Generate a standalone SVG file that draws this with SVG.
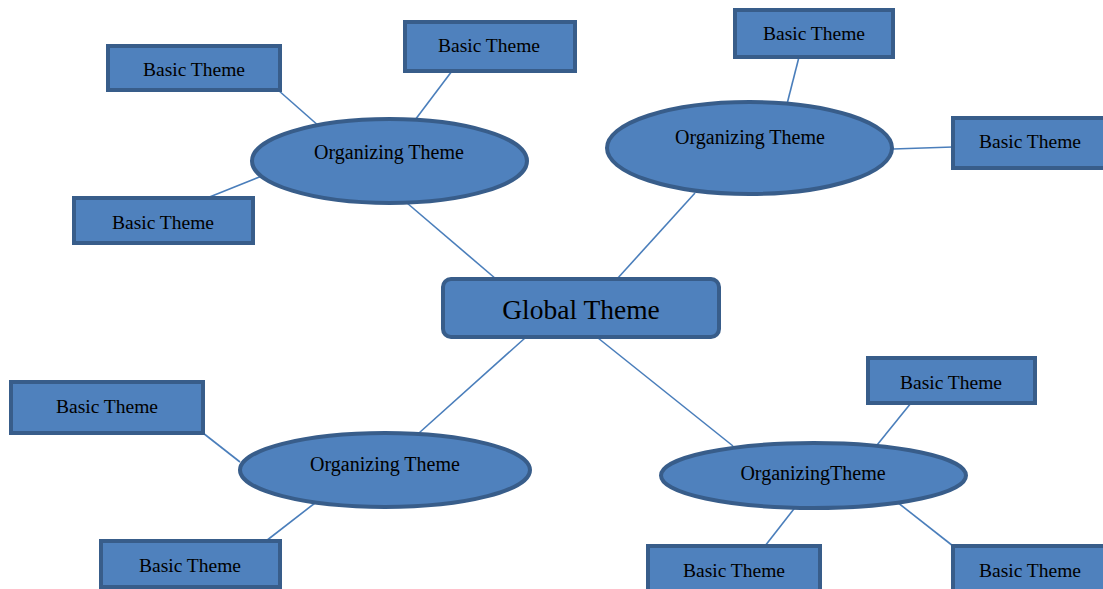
<svg xmlns="http://www.w3.org/2000/svg" width="1103" height="589" viewBox="0 0 1103 589">
<style>
.n{fill:#4f81bd;stroke:#385d8a;stroke-width:4}
.c line{stroke:#4a7ebb;stroke-width:1.6}
text{font-family:"Liberation Serif","Times New Roman",serif;fill:#000;text-anchor:middle;dominant-baseline:central}
.b{font-size:19.5px}
.o{font-size:20px}
.g{font-size:27.5px}
</style>
<rect width="1103" height="589" fill="#fff"/>
<g id="connectors" class="c">
<line x1="278" y1="90" x2="320" y2="127"/>
<line x1="452" y1="71" x2="412" y2="124"/>
<line x1="207" y1="198" x2="262" y2="176"/>
<line x1="799" y1="57" x2="787" y2="104"/>
<line x1="953" y1="147" x2="893" y2="149"/>
<line x1="407" y1="203" x2="496" y2="279"/>
<line x1="695" y1="193" x2="617" y2="279"/>
<line x1="525" y1="338" x2="419" y2="433"/>
<line x1="598" y1="338" x2="733" y2="446"/>
<line x1="203" y1="433" x2="240" y2="462"/>
<line x1="266" y1="541" x2="315" y2="503"/>
<line x1="911" y1="403" x2="873" y2="450"/>
<line x1="765" y1="546" x2="797" y2="505"/>
<line x1="953" y1="546" x2="897" y2="502"/>
</g>
<g id="global"><rect class="n" x="443" y="279" width="276" height="58" rx="8"/><text class="g" x="581" y="309">Global Theme</text></g>
<g id="org1"><ellipse class="n" cx="389.5" cy="161" rx="137.5" ry="42"/><text class="o" x="389" y="152">Organizing Theme</text></g>
<g id="org2"><ellipse class="n" cx="749.5" cy="148" rx="142.5" ry="46"/><text class="o" x="750" y="137">Organizing Theme</text></g>
<g id="org3"><ellipse class="n" cx="385" cy="470" rx="145" ry="37"/><text class="o" x="385" y="464">Organizing Theme</text></g>
<g id="org4"><ellipse class="n" cx="813.5" cy="475.5" rx="152.5" ry="32.5"/><text class="o" x="813" y="473">OrganizingTheme</text></g>
<g id="b1"><rect class="n" x="108" y="46" width="172" height="44"/><text class="b" x="194" y="69">Basic Theme</text></g>
<g id="b2"><rect class="n" x="405" y="22" width="170" height="49"/><text class="b" x="489" y="45">Basic Theme</text></g>
<g id="b3"><rect class="n" x="74" y="198" width="179" height="45"/><text class="b" x="163" y="222">Basic Theme</text></g>
<g id="b4"><rect class="n" x="735" y="10" width="158" height="47"/><text class="b" x="814" y="33">Basic Theme</text></g>
<g id="b5"><rect class="n" x="953" y="118" width="155" height="50"/><text class="b" x="1030" y="141">Basic Theme</text></g>
<g id="b6"><rect class="n" x="11" y="382" width="192" height="51"/><text class="b" x="107" y="406">Basic Theme</text></g>
<g id="b7"><rect class="n" x="101" y="541" width="179" height="46"/><text class="b" x="190" y="565">Basic Theme</text></g>
<g id="b8"><rect class="n" x="868" y="358" width="167" height="45"/><text class="b" x="951" y="382">Basic Theme</text></g>
<g id="b9"><rect class="n" x="648" y="546" width="172" height="45"/><text class="b" x="734" y="570">Basic Theme</text></g>
<g id="b10"><rect class="n" x="953" y="546" width="155" height="45"/><text class="b" x="1030" y="570">Basic Theme</text></g>
</svg>
